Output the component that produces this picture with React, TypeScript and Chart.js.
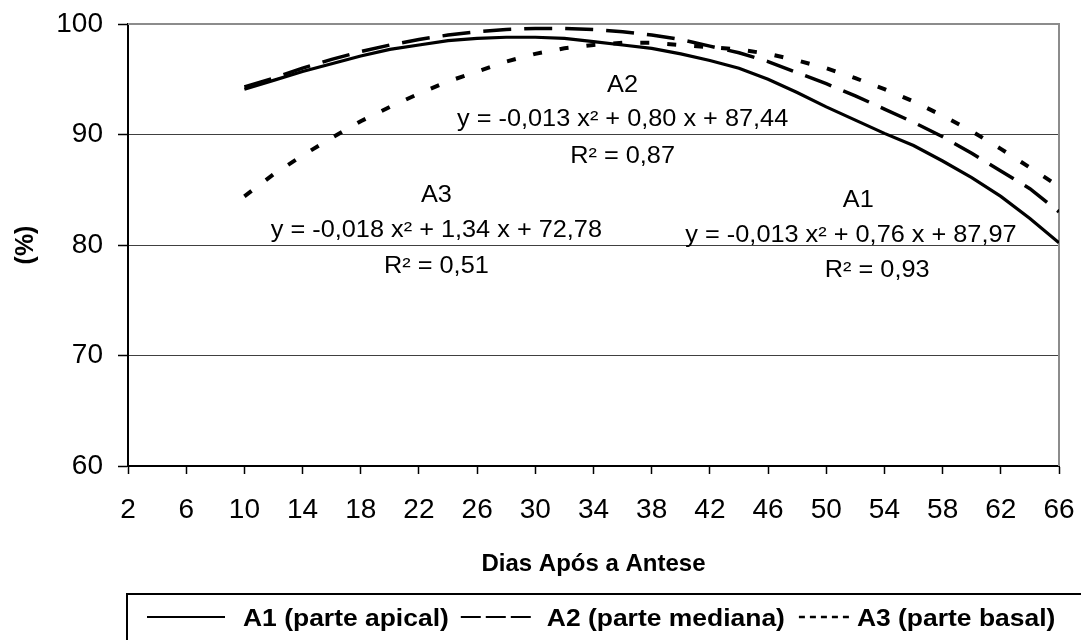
import React, { useEffect, useRef } from "react";
import { Chart, registerables } from "chart.js";

Chart.register(...registerables);

// ---- data ----
const days = [10, 12, 14, 16, 18, 20, 22, 24, 26, 28, 30, 32, 34, 36, 38, 40, 42, 44, 46, 48, 50, 52, 54, 56, 58, 60, 62, 64, 66];

const a1Values = [94.1, 94.9, 95.7, 96.4, 97.1, 97.7, 98.1, 98.5, 98.7, 98.8, 98.8, 98.7, 98.4, 98.1, 97.8, 97.3, 96.7, 96.0, 95.0, 93.8, 92.5, 91.3, 90.1, 89.0, 87.6, 86.1, 84.4, 82.4, 80.2];
const a2Values = [94.3, 95.1, 96.0, 96.8, 97.5, 98.1, 98.6, 99.0, 99.3, 99.5, 99.6, 99.6, 99.5, 99.3, 99.0, 98.6, 98.0, 97.4, 96.6, 95.6, 94.6, 93.5, 92.3, 91.1, 89.8, 88.3, 86.7, 85.1, 83.0];
const a3Values = [84.4, 86.4, 88.1, 89.7, 91.2, 92.5, 93.7, 94.8, 95.7, 96.6, 97.3, 97.8, 98.1, 98.3, 98.3, 98.1, 97.9, 97.7, 97.3, 96.7, 96.0, 95.1, 94.1, 93.0, 91.7, 90.3, 88.7, 87.0, 85.3];

const seriesNames = ["A1 (parte apical)", "A2 (parte mediana)", "A3 (parte basal)"];

const xMin = 2;
const xMax = 66;
const xStep = 4;
const yMin = 60;
const yMax = 100;
const yStep = 10;

const xTitle = "Dias Após a Antese";
const yTitle = "(%)";

// trend-line labels, anchored in data units
const trendLabels = [
  { text: "A2", day: 36.0, value: 93.85 },
  { text: "y = -0,013 x² + 0,80 x + 87,44", day: 36.0, value: 90.78 },
  { text: "R² = 0,87", day: 36.0, value: 87.43 },
  { text: "A3", day: 23.2, value: 83.91 },
  { text: "y = -0,018 x² + 1,34 x + 72,78", day: 23.2, value: 80.74 },
  { text: "R² = 0,51", day: 23.2, value: 77.49 },
  { text: "A1", day: 52.2, value: 83.45 },
  { text: "y = -0,013 x² + 0,76 x + 87,97", day: 51.7, value: 80.29 },
  { text: "R² = 0,93", day: 53.5, value: 77.12 },
];

const FONT = "'Liberation Sans', Arial, Helvetica, sans-serif";

function stretchedText(ctx: CanvasRenderingContext2D, text: string, x: number, y: number, sx: number, align: CanvasTextAlign) {
  ctx.save();
  ctx.translate(x, y);
  ctx.scale(sx, 1);
  ctx.textAlign = align;
  ctx.fillText(text, 0, 0);
  ctx.restore();
}

const decorPlugin = {
  id: "decor",
  beforeDatasetsDraw(chart: any) {
    const { ctx, chartArea: a } = chart;
    ctx.save();
    ctx.strokeStyle = "#8c8c8c";
    ctx.lineWidth = 2;
    ctx.beginPath();
    ctx.moveTo(a.left, a.top);
    ctx.lineTo(a.right, a.top);
    ctx.lineTo(a.right, a.bottom);
    ctx.stroke();
    ctx.restore();
  },
  afterDraw(chart: any) {
    const { ctx, chartArea: a } = chart;
    const xs = chart.scales.x;
    const ys = chart.scales.y;
    ctx.save();
    ctx.fillStyle = "#000";
    ctx.textBaseline = "alphabetic";

    // trend labels
    ctx.font = `23px ${FONT}`;
    for (const l of trendLabels) {
      stretchedText(ctx, l.text, xs.getPixelForValue(l.day), ys.getPixelForValue(l.value), 1.1, "center");
    }

    // axis titles
    ctx.font = `bold 24px ${FONT}`;
    stretchedText(ctx, xTitle, (a.left + a.right) / 2, 571, 1.0, "center");
    ctx.save();
    ctx.translate(26, (a.top + a.bottom) / 2);
    ctx.rotate(-Math.PI / 2);
    ctx.font = `bold 25px ${FONT}`;
    ctx.textAlign = "center";
    ctx.textBaseline = "middle";
    ctx.fillText(yTitle, 0, 0);
    ctx.restore();

    // legend box
    ctx.strokeStyle = "#000";
    ctx.lineWidth = 2;
    ctx.setLineDash([]);
    ctx.beginPath();
    ctx.moveTo(a.left - 1, 700);
    ctx.lineTo(a.left - 1, 594);
    ctx.lineTo(1100, 594);
    ctx.stroke();

    const ly = 617;
    const ty = 626;
    const sx = 1.15;
    ctx.font = `bold 23px ${FONT}`;
    let x = 147;
    // solid sample
    ctx.lineWidth = 2;
    ctx.setLineDash([]);
    ctx.beginPath(); ctx.moveTo(x, ly); ctx.lineTo(x + 78, ly); ctx.stroke();
    x += 78 + 18;
    stretchedText(ctx, seriesNames[0], x, ty, sx, "left");
    x += ctx.measureText(seriesNames[0]).width * sx + 12;
    // dashed sample
    ctx.setLineDash([20, 5]);
    ctx.beginPath(); ctx.moveTo(x, ly); ctx.lineTo(x + 70, ly); ctx.stroke();
    x += 70 + 16;
    stretchedText(ctx, seriesNames[1], x, ty, sx, "left");
    x += ctx.measureText(seriesNames[1]).width * sx + 14;
    // dotted sample
    ctx.lineWidth = 2.5;
    ctx.setLineDash([6, 5]);
    ctx.beginPath(); ctx.moveTo(x, ly); ctx.lineTo(x + 52, ly); ctx.stroke();
    x += 52 + 6;
    ctx.setLineDash([]);
    stretchedText(ctx, seriesNames[2], x, ty, sx, "left");
    ctx.restore();
  },
};

export default function App() {
  const ref = useRef<HTMLCanvasElement | null>(null);

  useEffect(() => {
    if (!ref.current) return;
    const mk = (vals: number[]) => days.map((d, i) => ({ x: d, y: vals[i] }));
    const chart = new Chart(ref.current, {
      type: "line",
      data: {
        datasets: [
          { label: seriesNames[0], data: mk(a1Values), borderColor: "#000", borderWidth: 3.2, pointRadius: 0, tension: 0, fill: false },
          { label: seriesNames[1], data: mk(a2Values), borderColor: "#000", borderWidth: 3.5, borderDash: [28, 13], pointRadius: 0, tension: 0, fill: false },
          { label: seriesNames[2], data: mk(a3Values), borderColor: "#000", borderWidth: 4, borderDash: [9, 18], pointRadius: 0, tension: 0, fill: false },
        ],
      },
      options: {
        responsive: false,
        animation: false,
        devicePixelRatio: 1,
        layout: { padding: { left: 0, right: 22, top: 24, bottom: 0 } },
        plugins: { legend: { display: false }, tooltip: { enabled: false }, title: { display: false } },
        scales: {
          x: {
            type: "linear",
            min: xMin,
            max: xMax,
            afterFit: (s: any) => { s.height = 174; s.paddingLeft = 0; s.paddingRight = 0; },
            ticks: { stepSize: xStep, autoSkip: false, maxRotation: 0, color: "#000", padding: 19, font: { family: FONT, size: 28 } },
            grid: { drawOnChartArea: false, tickLength: 8, tickColor: "#000", tickWidth: 1.5 },
            border: { display: true, color: "#000", width: 2 },
          },
          y: {
            type: "linear",
            min: yMin,
            max: yMax,
            afterFit: (s: any) => { s.width = 128; s.paddingTop = 0; s.paddingBottom = 0; },
            ticks: { stepSize: yStep, color: "#000", padding: 15, font: { family: FONT, size: 28 } },
            grid: {
              color: (c: any) => (c.tick && (c.tick.value === yMax || c.tick.value === yMin) ? "rgba(0,0,0,0)" : "#404040"),
              lineWidth: 1,
              tickLength: 10,
              tickColor: "#000",
              tickWidth: 1.5,
            },
            border: { display: true, color: "#000", width: 2 },
          },
        },
      },
      plugins: [decorPlugin],
    });
    return () => chart.destroy();
  }, []);

  return (
    <div style={{ position: "fixed", left: 0, top: 0, width: 1081, height: 640, background: "#fff" }}>
      <canvas ref={ref} width={1081} height={640} style={{ display: "block", width: 1081, height: 640 }} />
    </div>
  );
}
